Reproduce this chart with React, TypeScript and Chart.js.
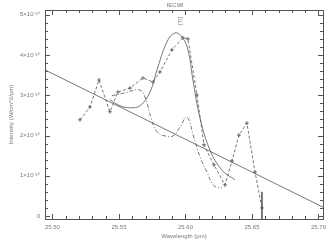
import React, { useEffect, useRef } from "react";
import { Chart, registerables } from "chart.js";
Chart.register(...registerables);

// Axis ranges (intensity in units of 1e-16 W/cm^2/um)
const xMin = 25.4944;
const xMax = 25.7034;
const yMin = -0.075;
const yMax = 5.12;

const xTickValues = [25.5, 25.55, 25.6, 25.65, 25.7];
const xTickLabels = ["25.50", "25.55", "25.60", "25.65", "25.70"];
const yTickValues = [0, 1, 2, 3, 4, 5];
const yTickLabels = ["0", "1×10⁻¹⁶", "2×10⁻¹⁶", "3×10⁻¹⁶", "4×10⁻¹⁶", "5×10⁻¹⁶"];
const minorPerMajor = 5;

const titleText = "IEC98";
const lineLabel = "[Ti]";
const xTitle = "Wavelength (μm)";
const yTitle = "Intensity (W/cm^2/μm)";

// Continuum (straight line)
const contX = [25.4944, 25.7034];
const contY = [3.63, 0.22];

// Observed spectrum (dashed with + markers)
const obsX = [25.5207, 25.5282, 25.535, 25.5432, 25.5492, 25.5583, 25.568, 25.5756, 25.5808, 25.5898, 25.5981, 25.6019, 25.6086, 25.6139, 25.6214, 25.6297, 25.635, 25.6402, 25.6462, 25.6523, 25.6575];
const obsY = [2.39, 2.71, 3.38, 2.59, 3.08, 3.18, 3.43, 3.33, 3.58, 4.13, 4.43, 4.4, 3.01, 1.77, 1.27, 0.77, 1.37, 2.01, 2.31, 1.09, 0.2];

// Error bar on the last point
const errX = [25.6575, 25.6575];
const errY = [0.6, -0.5];

// Fitted model (solid smooth)
const fitX = [25.5432, 25.5508, 25.5583, 25.5658, 25.5733, 25.5786, 25.5861, 25.5921, 25.5974, 25.6019, 25.6056, 25.6109, 25.6184, 25.6274, 25.6372];
const fitY = [2.89, 2.74, 2.69, 2.74, 3.08, 3.63, 4.33, 4.55, 4.45, 4.13, 3.38, 2.44, 1.64, 1.14, 0.9];

// Second model (dash-dot)
const modX = [25.5447, 25.5545, 25.5658, 25.5703, 25.5741, 25.5786, 25.5846, 25.5906, 25.5959, 25.6011, 25.6064, 25.6109, 25.6162, 25.6214, 25.6274];
const modY = [2.99, 3.06, 3.13, 2.89, 2.44, 2.09, 1.99, 1.99, 2.21, 2.46, 1.94, 1.47, 1.09, 0.75, 0.7];

const zip = (xs: number[], ys: number[]) => xs.map((x, i) => ({ x, y: ys[i] }));

const TEXT = "#777";
const LINE = "#555";
const FONT = "'Liberation Sans', Arial, sans-serif";

const framePlugin = {
  id: "frame",
  afterDraw(chart: any) {
    const { ctx, chartArea: a, scales } = chart;
    const xs = scales.x;
    const ys = scales.y;
    ctx.save();
    ctx.strokeStyle = LINE;
    ctx.lineWidth = 1;
    ctx.strokeRect(Math.round(a.left) + 0.5, Math.round(a.top) + 0.5, Math.round(a.right - a.left), Math.round(a.bottom - a.top));
    ctx.beginPath();
    for (let i = 0; i < xTickValues.length; i++) {
      const v0 = xTickValues[i];
      const step = (xTickValues[1] - xTickValues[0]) / minorPerMajor;
      for (let k = 0; k < minorPerMajor; k++) {
        const v = v0 + k * step;
        if (v < xMin || v > xMax) continue;
        const px = Math.round(xs.getPixelForValue(v)) + 0.5;
        const len = k === 0 ? 5 : 3;
        ctx.moveTo(px, a.bottom);
        ctx.lineTo(px, a.bottom - len);
        ctx.moveTo(px, a.top);
        ctx.lineTo(px, a.top + len);
      }
    }
    for (let i = 0; i < yTickValues.length; i++) {
      const v0 = yTickValues[i];
      const step = (yTickValues[1] - yTickValues[0]) / minorPerMajor;
      for (let k = 0; k < minorPerMajor; k++) {
        const v = v0 + k * step;
        if (v < yMin || v > yMax) continue;
        const py = Math.round(ys.getPixelForValue(v)) + 0.5;
        const len = k === 0 ? 5 : 3;
        ctx.moveTo(a.left, py);
        ctx.lineTo(a.left + len, py);
        ctx.moveTo(a.right, py);
        ctx.lineTo(a.right - len, py);
      }
    }
    ctx.stroke();
    ctx.fillStyle = TEXT;
    ctx.font = `6px ${FONT}`;
    ctx.textAlign = "center";
    ctx.textBaseline = "middle";
    ctx.fillText(titleText, 175, 5);
    ctx.translate(180, 21);
    ctx.rotate(-Math.PI / 2);
    ctx.fillText(lineLabel, 0, 0);
    ctx.restore();
  },
};

export default function App() {
  const ref = useRef<HTMLCanvasElement | null>(null);
  useEffect(() => {
    document.body.style.margin = "0";
    const canvas = ref.current!;
    const chart = new Chart(canvas, {
      type: "scatter",
      data: {
        datasets: [
          { label: "continuum", data: zip(contX, contY), showLine: true, borderColor: LINE, borderWidth: 0.8, pointRadius: 0 },
          { label: "model", data: zip(modX, modY), showLine: true, borderColor: LINE, borderWidth: 0.8, borderDash: [4, 2, 1, 2], pointRadius: 0, tension: 0.4 },
          { label: "fit", data: zip(fitX, fitY), showLine: true, borderColor: LINE, borderWidth: 0.8, pointRadius: 0, tension: 0.4 },
          { label: "error", data: zip(errX, errY), showLine: true, borderColor: LINE, borderWidth: 0.8, pointRadius: 0 },
          { label: "observed", data: zip(obsX, obsY), showLine: true, borderColor: LINE, borderWidth: 0.8, borderDash: [3, 2], pointStyle: "cross", pointRadius: 2, pointBorderWidth: 0.8, pointBorderColor: LINE },
        ],
      },
      options: {
        responsive: false,
        animation: false,
        devicePixelRatio: 1,
        layout: { padding: { top: 10, right: 10, left: 0, bottom: 0 } },
        plugins: { legend: { display: false }, tooltip: { enabled: false }, title: { display: false } },
        scales: {
          x: {
            type: "linear",
            position: "bottom",
            min: xMin,
            max: xMax,
            afterBuildTicks: (s: any) => { s.ticks = xTickValues.map((v) => ({ value: v })); },
            afterFit: (s: any) => { s.height = 26; },
            grid: { display: true, drawOnChartArea: false, drawTicks: false },
            border: { display: false },
            ticks: {
              autoSkip: false,
              maxRotation: 0,
              padding: 5,
              color: TEXT,
              font: { family: FONT, size: 6 },
              callback: (_v: any, i: number) => xTickLabels[i],
            },
            title: { display: true, text: xTitle, color: TEXT, font: { family: FONT, size: 6 }, padding: { top: 0, bottom: 5 } },
          },
          y: {
            type: "linear",
            position: "left",
            min: yMin,
            max: yMax,
            afterBuildTicks: (s: any) => { s.ticks = yTickValues.map((v) => ({ value: v })); },
            afterFit: (s: any) => { s.width = 45; },
            grid: { display: true, drawOnChartArea: false, drawTicks: false },
            border: { display: false },
            ticks: {
              autoSkip: false,
              padding: 5,
              color: TEXT,
              font: { family: FONT, size: 6 },
              callback: (_v: any, i: number) => yTickLabels[i],
            },
            title: { display: true, text: yTitle, color: TEXT, font: { family: FONT, size: 6 }, padding: { top: 8, bottom: 0 } },
          },
        },
      },
      plugins: [framePlugin],
    });
    return () => chart.destroy();
  }, []);
  return (
    <div style={{ position: "fixed", left: 0, top: 0, width: 333, height: 245, background: "#fff" }}>
      <canvas ref={ref} width={333} height={245} />
    </div>
  );
}
